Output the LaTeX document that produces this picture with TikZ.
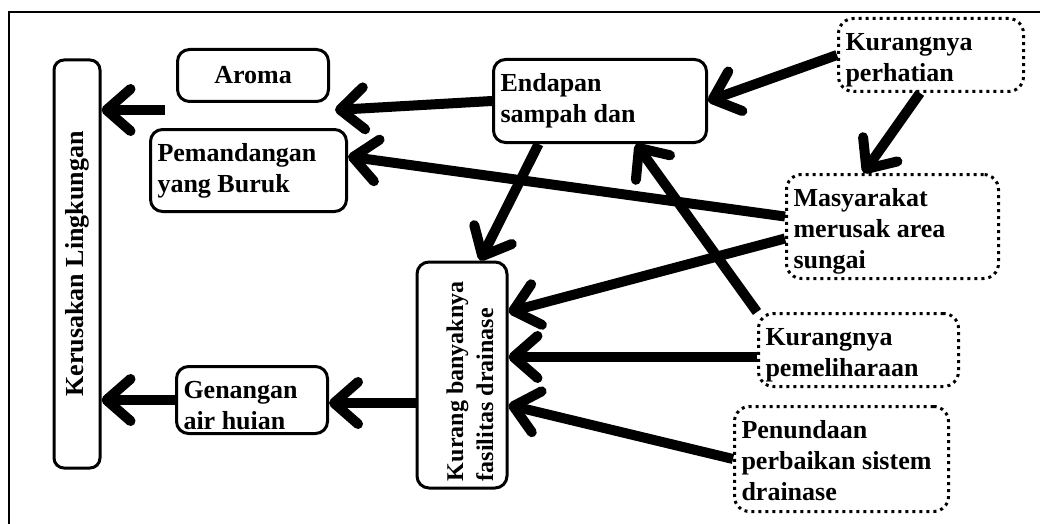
\documentclass[tikz,border=0pt]{standalone}
\usepackage{fontspec}
\setmainfont{Liberation Serif}
\usepackage{tikz}
\usetikzlibrary{arrows.meta, positioning}

\newcommand{\boxtext}[3]{\parbox[c][#2][t]{#1}{\raggedright\rule{0pt}{24pt}#3}}

\begin{document}
\begin{tikzpicture}[
  x=1pt, y=-1pt,
  solidbox/.style={draw, line width=3pt, rounded corners=12pt, inner xsep=7pt, inner ysep=8pt,
    font=\bfseries\fontsize{26}{31}\selectfont},
  dotbox/.style={solidbox, dash pattern=on 3pt off 4pt, rounded corners=15pt},
  arr/.style={-{Straight Barb[length=24pt, width=42pt, round]}, line width=10pt},
]
\useasboundingbox (0,0) rectangle (1040,524);

% frame
\draw[line width=2pt] (9,530) -- (9,12) -- (1045,12);

% effects
\node[solidbox, rotate=90, minimum width=408pt, minimum height=46pt, inner sep=0pt, rounded corners=10pt]
  (kerusakan) at (77,264) {Kerusakan Lingkungan};
\node[solidbox, anchor=north west, minimum width=151pt, minimum height=52pt, inner sep=0pt]
  (aroma) at (176,48) {Aroma};
\node[solidbox, anchor=north west] (pemandangan) at (149,128) {\boxtext{182pt}{66pt}{Pemandangan\\yang Buruk}};
\node[solidbox, anchor=north west] (genangan) at (175,365) {\boxtext{137pt}{51pt}{Genangan\\air huian}};

% middle
\node[solidbox, anchor=north west] (endapan) at (492,58) {\boxtext{199pt}{67pt}{Endapan\\sampah dan}};
\node[solidbox, rotate=90, inner ysep=22pt, font=\bfseries\fontsize{24}{30}\selectfont] (kurangfas) at (462,375)
  {\boxtext{212pt}{46pt}{Kurang banyaknya\\fasilitas drainase}};

% causes
\node[dotbox, anchor=north west] (perhatian) at (837,17) {\boxtext{171pt}{57pt}{Kurangnya\\perhatian}};
\node[dotbox, anchor=north west] (masyarakat) at (785,173) {\boxtext{198pt}{88pt}{Masyarakat\\merusak area\\sungai}};
\node[dotbox, anchor=north west] (pemeliharaan) at (757,312) {\boxtext{186pt}{57pt}{Kurangnya\\pemeliharaan}};
\node[dotbox, anchor=north west] (penundaan) at (733,405) {\boxtext{200pt}{89pt}{Penundaan\\perbaikan sistem\\drainase}};

\coordinate (effects) at (165,110);
\coordinate (midgap) at (335,110);

\draw[arr] (effects) -- (effects -| kerusakan.south);
\draw[arr] (endapan.west) -- (midgap);
\draw[arr] ([yshift=10pt]masyarakat.west) -- ([yshift=14pt]pemandangan.east);
\draw[arr] (endapan.215) -- ([xshift=18pt]kurangfas.east);
\draw[arr] (perhatian.west) -- (endapan.east);
\draw[arr] ([xshift=-11pt]perhatian.south) -- ([xshift=-29pt]masyarakat.north);
\draw[arr] ([yshift=-12pt]masyarakat.west) -- ([yshift=63pt]kurangfas.south);
\draw[arr] (pemeliharaan.north west) -- ([xshift=36pt]endapan.south);
\draw[arr] ([yshift=-7pt]pemeliharaan.west) -- ([yshift=-7pt]pemeliharaan.west -| kurangfas.south);
\draw[arr] (penundaan.west) -- ([yshift=-30pt]kurangfas.south);
\draw[arr] ([yshift=-28pt]kurangfas.north) -- ([yshift=-28pt]kurangfas.north -| genangan.east);
\draw[arr] (genangan.west) -- (genangan.west -| kerusakan.south);

\end{tikzpicture}
\end{document}
